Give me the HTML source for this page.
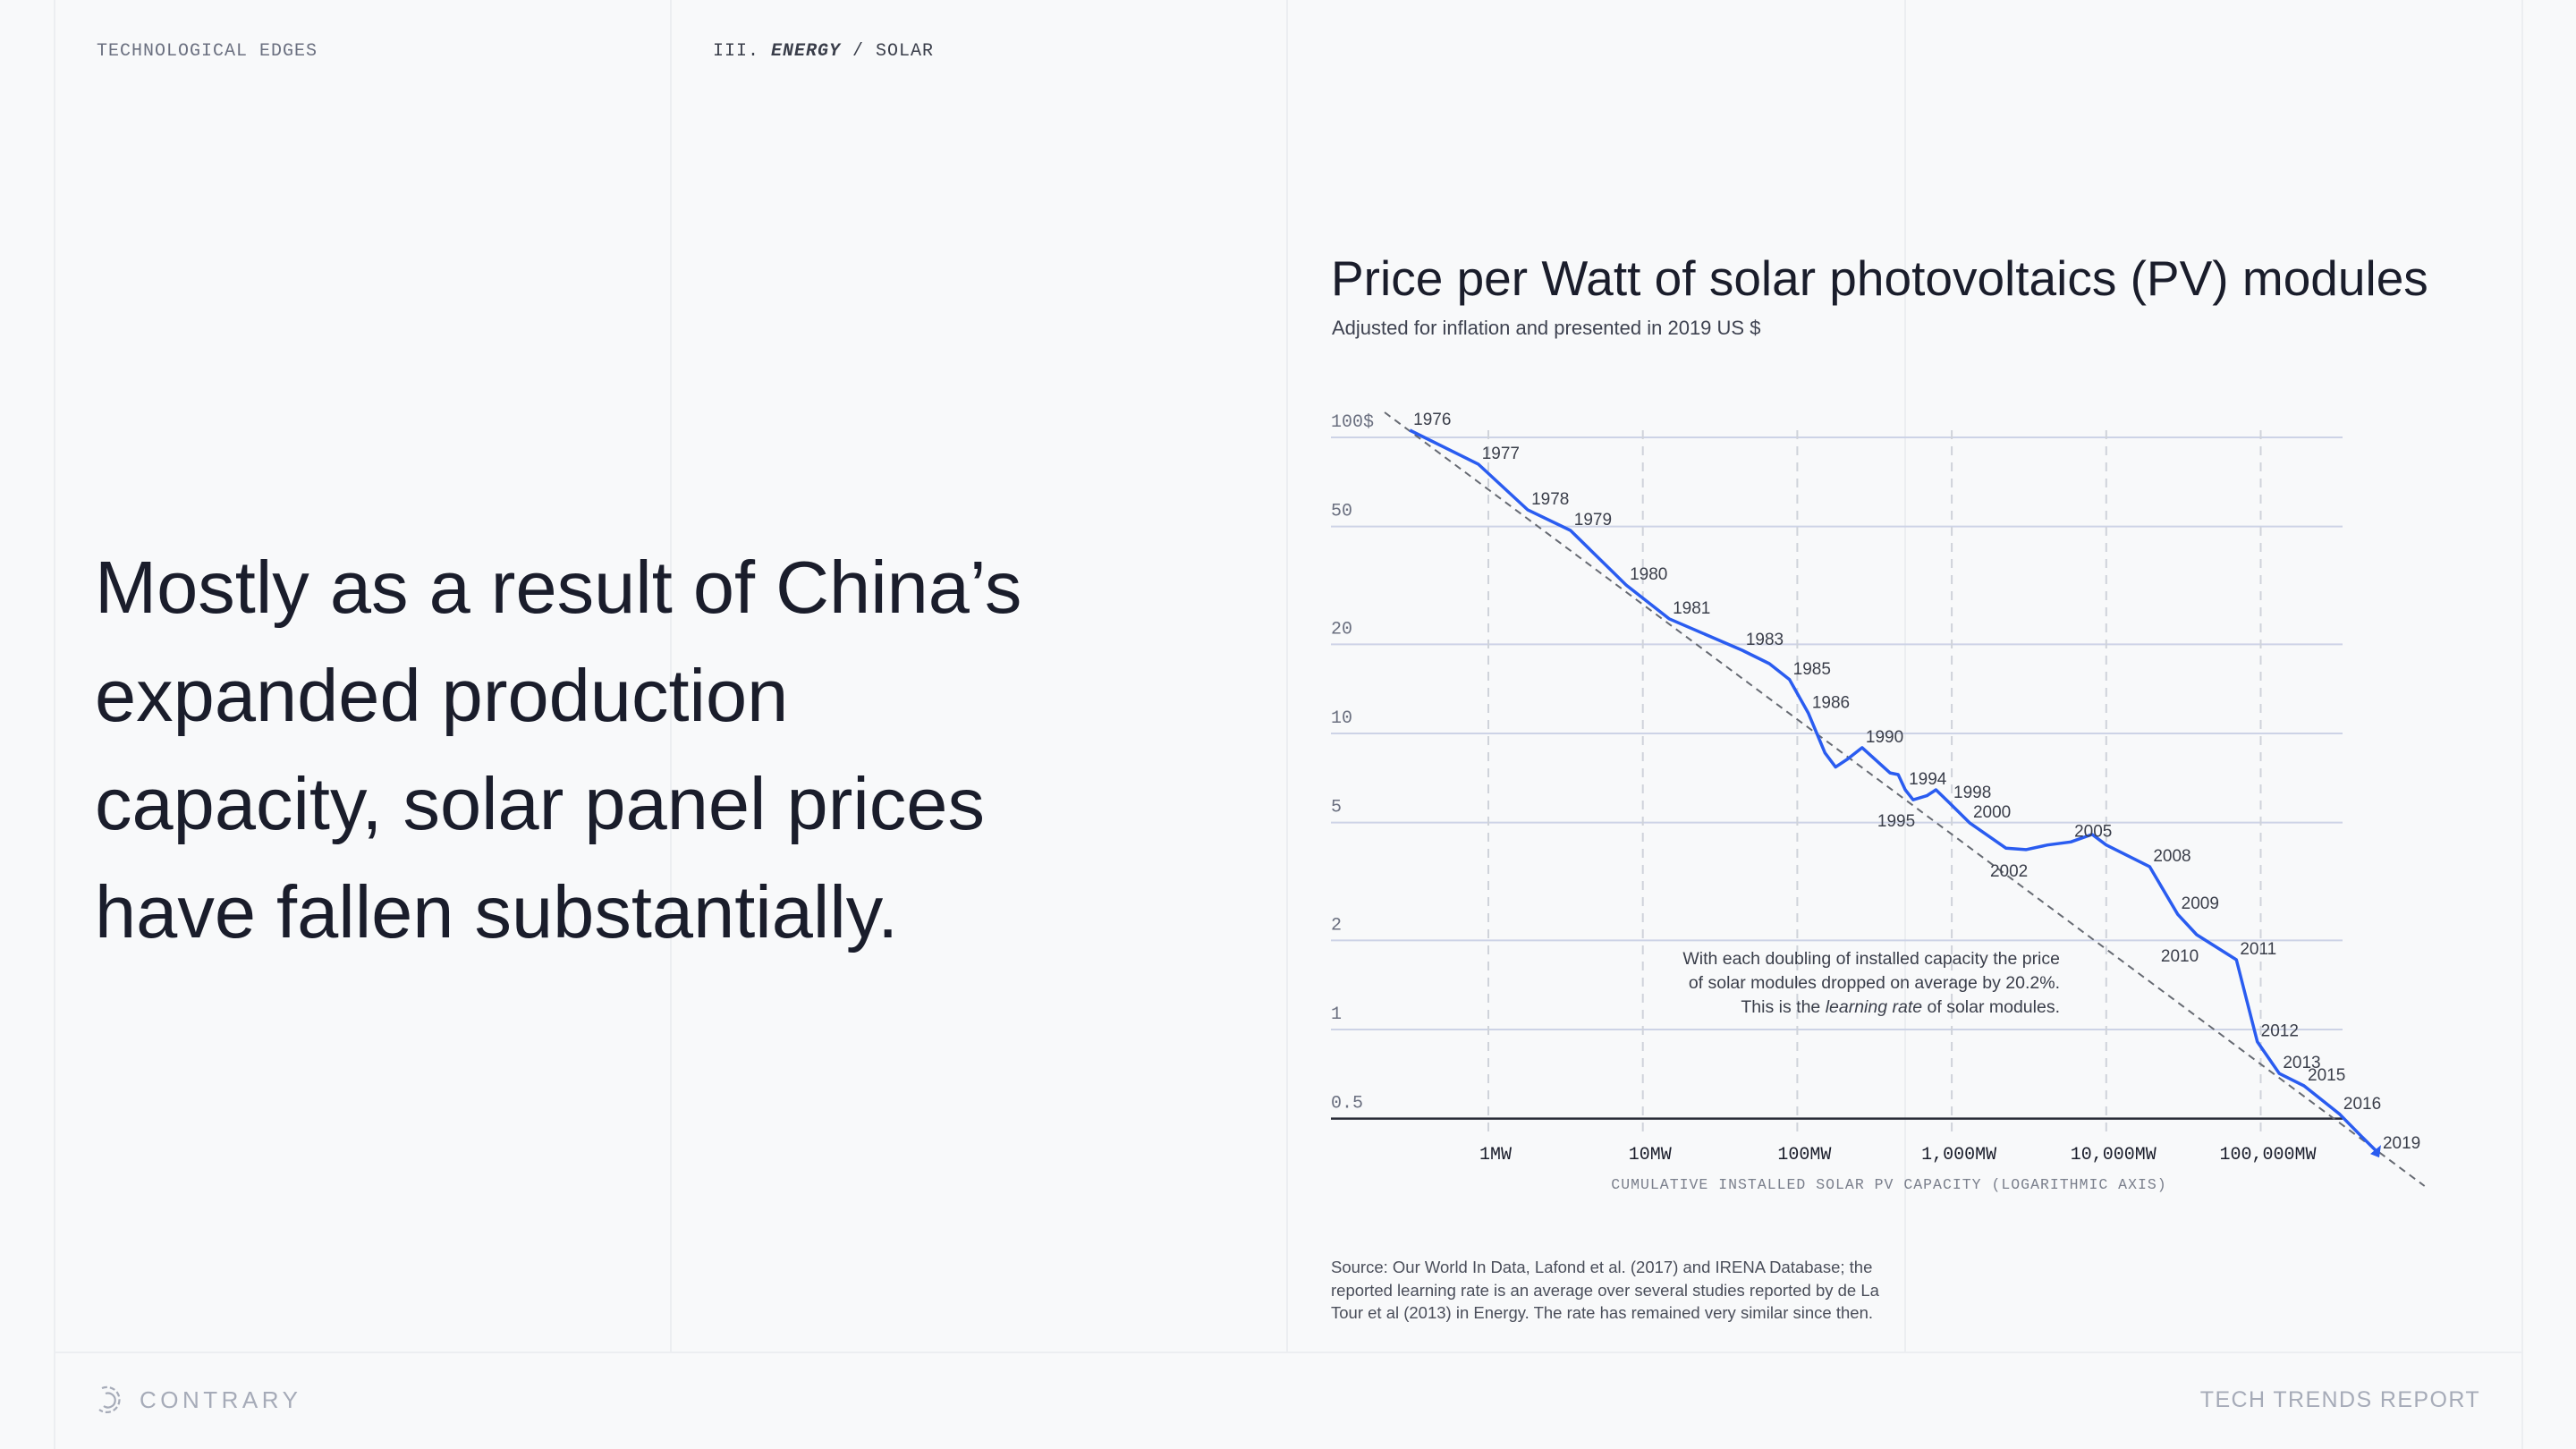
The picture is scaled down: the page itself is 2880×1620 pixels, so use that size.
<!DOCTYPE html>
<html><head><meta charset="utf-8"><style>
html,body{margin:0;padding:0;}
body{width:2880px;height:1620px;background:#f8f9fa;position:relative;overflow:hidden;font-family:"Liberation Sans",sans-serif;color:#1a1d2b;}
.vl{position:absolute;top:0;width:2px;height:1512px;background:#eceef1;}
.mono{font-family:"Liberation Mono",monospace;}
.abs{position:absolute;white-space:nowrap;}
</style></head><body>
<div class="vl" style="left:60px;height:1620px"></div>
<div class="vl" style="left:749px"></div>
<div class="vl" style="left:1438px"></div>
<div class="vl" style="left:2129px"></div>
<div class="vl" style="left:2819px;height:1620px"></div>
<div class="abs" style="left:60px;top:1511px;width:2760px;height:2px;background:#eceef1"></div>

<div class="abs mono" style="left:108px;top:46px;font-size:20px;color:#6b7080;letter-spacing:1px">TECHNOLOGICAL EDGES</div>
<div class="abs mono" style="left:797px;top:46px;font-size:20px;color:#3a3e4a;letter-spacing:1px">III. <b><i>ENERGY</i></b> / SOLAR</div>

<div class="abs" style="left:106px;top:596px;font-size:83px;line-height:121px;color:#1a1d2b;white-space:normal;width:1300px">Mostly as a result of China’s<br>expanded production<br>capacity, solar panel prices<br>have fallen substantially.</div>

<div class="abs" style="left:1488px;top:279px;font-size:55px;color:#1a1d2b">Price per Watt of solar photovoltaics (PV) modules</div>
<div class="abs" style="left:1489px;top:354px;font-size:22px;color:#3e4250">Adjusted for inflation and presented in 2019 US $</div>

<svg class="abs" style="left:0;top:0" width="2880" height="1620" id="chart"></svg>

<div class="abs" style="left:1488px;top:1404px;font-size:18.5px;line-height:25.5px;color:#4a4e5a;white-space:normal;width:630px">Source: Our World In Data, Lafond et al. (2017) and IRENA Database; the reported learning rate is an average over several studies reported by de La Tour et al (2013) in Energy. The rate has remained very similar since then.</div>

<svg class="abs" style="left:106px;top:1547px" width="34" height="36">
<g fill="none" stroke="#a6abb8" stroke-width="2.2"><path d="M8 5 A14 14 0 1 1 5 29" stroke-dasharray="6 3"/><path d="M12 11 A8 8 0 1 1 10 25"/></g></svg>
<div class="abs" style="left:156px;top:1550px;font-size:26px;letter-spacing:4.5px;color:#a6abb8">CONTRARY</div>
<div class="abs" style="right:107px;top:1551px;font-size:25px;letter-spacing:1.4px;color:#a6abb8">TECH TRENDS REPORT</div>

<script>
const years=[1976,1977,1978,1979,1980,1981,1983,1984,1985,1986,1987,1988,1989,1990,1991,1992,1993,1994,1995,1996,1997,1998,2000,2001,2002,2003,2005,2006,2007,2008,2009,2010,2011,2012,2013,2015,2016,2017,2019];
const capacityMW=[0.31,0.86,1.8,3.4,7.8,14.8,44,66,89,118,151,177,212,263,325,398,450,500,562,690,790,973,1303,2240,3020,4170,5890,8100,10000,19100,29000,38500,69600,95000,132000,191000,325000,448000,585000];
const pricePerWatt=[105.7,81.2,56.9,48.5,31.7,24.4,19.1,17.2,15.2,11.7,8.6,7.7,8.2,8.95,8.1,7.36,7.26,6.45,5.97,6.16,6.45,5.81,4.99,4.1,4.05,4.2,4.3,4.56,4.2,3.55,2.45,2.09,1.72,0.91,0.71,0.645,0.517,0.436,0.38];
const labeledYears=[1976,1977,1978,1979,1980,1981,1983,1985,1986,1990,1994,1995,1998,2000,2002,2005,2008,2009,2010,2011,2012,2013,2015,2016,2019];
const labelsBelow=[1995,2002,2010];
const yTicks=[100,50,20,10,5,2,1,0.5];
const yTickLabels=["100$","50","20","10","5","2","1","0.5"];
const xTicks=[1,10,100,1000,10000,100000];
const xTickLabels=["1MW","10MW","100MW","1,000MW","10,000MW","100,000MW"];
const trendStart=[0.213,121.5];
const trendEnd=[1150000,0.296];

const NS="http://www.w3.org/2000/svg";
const svg=document.getElementById('chart');
function xs(mw){return 1664+172.7*Math.log10(mw);}
function ys(v){return 489+331*Math.log10(100/v);}
function mk(tag,attrs,text){const e=document.createElementNS(NS,tag);for(const k in attrs)e.setAttribute(k,attrs[k]);if(text!==undefined)e.textContent=text;svg.appendChild(e);return e;}
const X0=1488,X1=2619;
yTicks.forEach((t,i)=>{
  const y=ys(t);
  const last=i===yTicks.length-1;
  const l=mk('line',{x1:X0,x2:X1,y1:y,y2:y,stroke:last?'#2a2d38':'#cdd3e6','stroke-width':last?2.5:2});
  
  
  const tx=mk('text',{x:X0,y:y-12,'font-family':'Liberation Mono, monospace','font-size':20,fill:'#6b7080'},yTickLabels[i]);
  
  
});
xTicks.forEach((t,i)=>{
  const x=xs(t);
  const l=mk('line',{x1:x,x2:x,y1:481,y2:1268,stroke:'#cfd3da','stroke-width':2,'stroke-dasharray':'10 8'});
  
  
  const tx=mk('text',{x:x+8,y:1296,'text-anchor':'middle','font-family':'Liberation Mono, monospace','font-size':20,fill:'#1a1d2b'},xTickLabels[i]);
  
  
});
const at=mk('text',{x:2112,y:1329,'text-anchor':'middle','font-family':'Liberation Mono, monospace','font-size':16.5,fill:'#7a7f8c','letter-spacing':1},'CUMULATIVE INSTALLED SOLAR PV CAPACITY (LOGARITHMIC AXIS)');


const tr=mk('line',{x1:xs(trendStart[0]),y1:ys(trendStart[1]),x2:xs(trendEnd[0]),y2:ys(trendEnd[1]),stroke:'#666a72','stroke-width':2,'stroke-dasharray':'8 6'});


let d='';
capacityMW.forEach((c,i)=>{d+=(i?'L':'M')+xs(c).toFixed(1)+' '+ys(pricePerWatt[i]).toFixed(1);});
const p=mk('path',{d:d,fill:'none',stroke:'#2a5cf0','stroke-width':3.5,'stroke-linejoin':'round'});


const n=capacityMW.length-1;
const ex=xs(capacityMW[n]),ey=ys(pricePerWatt[n]);
const ar=mk('path',{d:`M${ex} ${ey+4} l-10 -4 l12 -10 z`,fill:'#2a5cf0'});


labeledYears.forEach(yr=>{
  const i=years.indexOf(yr);
  if(i<0)return;
  const x=xs(capacityMW[i]),y=ys(pricePerWatt[i]);
  const below=labelsBelow.indexOf(yr)>=0;
  const t=mk('text',{x:below?x-40:x+4,y:below?y+30:y-6,'font-size':19,fill:'#3a3e4a','font-family':'Liberation Sans, sans-serif'},String(yr));
  
  
});
const ann=["With each doubling of installed capacity the price","of solar modules dropped on average by 20.2%."];
ann.forEach((s,k)=>{
  const t=mk('text',{x:2303,y:1078+k*27,'text-anchor':'end','font-size':19.5,fill:'#3a3e4a'},s);
  
  
});
const t3=mk('text',{x:2303,y:1132,'text-anchor':'end','font-size':19.5,fill:'#3a3e4a'});


t3.innerHTML='This is the <tspan font-style="italic">learning rate</tspan> of solar modules.';
</script>
</body></html>
